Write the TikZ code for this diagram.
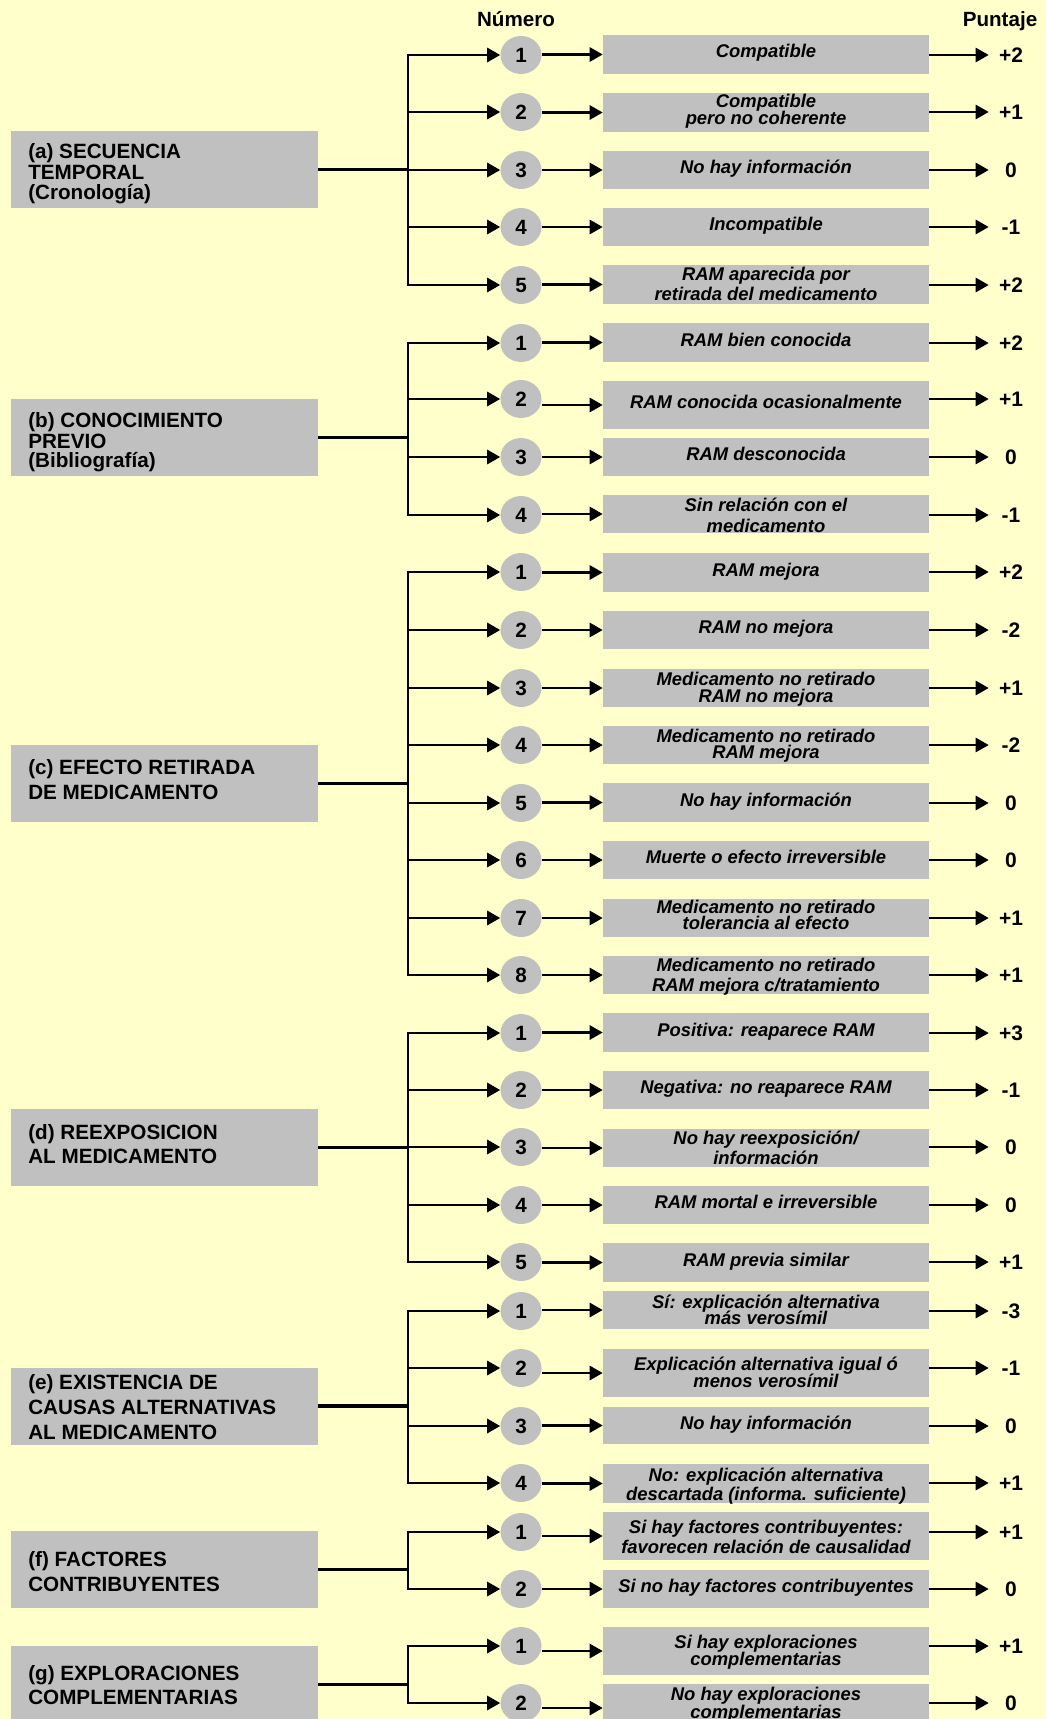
\documentclass[tikz,border=0pt]{standalone}
\usepackage{fontspec}
\setmainfont{Liberation Sans}
\usetikzlibrary{arrows.meta,shapes.geometric}
\definecolor{bgyellow}{HTML}{FFFFCC}
\definecolor{boxgray}{HTML}{C0C0C0}
\tikzset{
  ln/.style={line width=2pt, draw=black},
  arr/.style={ln, -{Triangle[length=9.75pt,width=10.5pt]}},
  ibox/.style={rectangle, fill=boxgray, draw=none, minimum width=244.5pt, inner sep=0pt},
  lbox/.style={rectangle, fill=boxgray, draw=none, minimum width=230.25pt, minimum height=57.75pt, inner sep=0pt},
  numc/.style={ellipse, fill=boxgray, draw=none, minimum width=30.75pt, minimum height=28.5pt, inner sep=0pt, font=\bfseries\fontsize{15.5}{15.5}\selectfont},
  itxt/.style={anchor=base, inner sep=0pt, font=\bfseries\itshape\fontsize{13.8}{14}\selectfont},
  ltxt/.style={anchor=base west, inner sep=0pt, font=\bfseries\fontsize{15.5}{16}\selectfont},
  hdr/.style={anchor=base, inner sep=0pt, font=\bfseries\fontsize{15.45}{16}\selectfont},
  scorenode/.style={minimum width=33pt, inner sep=0pt, font=\bfseries\fontsize{15.75}{16}\selectfont}
}
% #1 id, #2 digit, #3 row y, #4 box top, #5 box bottom, #6 score
\newcommand\optrow[6]{%
  \coordinate (#1s) at (408,#3);
  \node[numc] (#1n) at (521,#3) {#2};
  \node[ibox, minimum height={(#5-#4)*0.75pt}] (#1b) at (766,{(#4+#5)/2}) {};
  \node[scorenode] (#1p) at (1011,#3) {#6};
  \draw[arr] (#1s) -- (#1n.west);
  \draw[arr] (#1n.east |- #1b.west) -- (#1b.west);
  \draw[arr] (#1b.east |- #1n) -- (#1p.west);
}
\newcommand\oneline[3]{\node[itxt] (#1t) at (766,#2) {#3};}
\newcommand\twoline[5]{\node[itxt] (#1t) at (766,#2) {#3};\node[itxt] (#1u) at (766,#4) {#5};}
\newcommand\ltext[3]{\node[ltxt] (#1) at (28,#2) {#3};}
% #1 section id, #2 box centre y, #3 first row id, #4 last row id
\newcommand\critsec[4]{%
  \node[lbox] (#1L) at (164.5,#2) {};
  \draw[ln, line cap=rect] (#3s) -- (#4s);
  \draw[ln, line width=2.5pt] (#1L.east) -- (#1L.east -| #3s);
}
\begin{document}
\begin{tikzpicture}[x=0.75pt,y=-0.75pt]
\fill[bgyellow] (0,0) rectangle (1046,1719);
\useasboundingbox (0,0) rectangle (1046,1719);

\node[hdr] (hnum) at (516,27) {Número};
\node[hdr] (hpun) at (1000,27) {Puntaje};

% (a)
\optrow{a1}{1}{55}{35}{74}{+2}
\optrow{a2}{2}{112}{93}{132}{+1}
\optrow{a3}{3}{170}{151}{189}{0}
\optrow{a4}{4}{227}{208}{246}{-1}
\optrow{a5}{5}{285}{265}{304}{+2}
\critsec{a}{169.5}{a1}{a5}
\ltext{aL1}{159}{(a) SECUENCIA}
\ltext{aL2}{180}{TEMPORAL}
\ltext{aL3}{200}{(Cronología)}
\oneline{a1}{58}{Compatible}
\twoline{a2}{108}{Compatible}{125}{pero no coherente}
\oneline{a3}{173.5}{No hay información}
\oneline{a4}{230.5}{Incompatible}
\twoline{a5}{281}{RAM aparecida por}{300}{retirada del medicamento}

% (b)
\optrow{b1}{1}{343}{323}{362}{+2}
\optrow{b2}{2}{399}{381}{429}{+1}
\optrow{b3}{3}{457}{438}{476}{0}
\optrow{b4}{4}{515}{495}{533}{-1}
\critsec{b}{437.5}{b1}{b4}
\ltext{bL1}{427}{(b) CONOCIMIENTO}
\ltext{bL2}{448}{PREVIO}
\ltext{bL3}{467}{(Bibliografía)}
\oneline{b1}{346}{RAM bien conocida}
\oneline{b2}{408.5}{RAM conocida ocasionalmente}
\oneline{b3}{460.5}{RAM desconocida}
\twoline{b4}{511}{Sin relación con el}{532}{medicamento}

% (c)
\optrow{c1}{1}{572}{553}{592}{+2}
\optrow{c2}{2}{630}{611}{649}{-2}
\optrow{c3}{3}{688}{669}{707}{+1}
\optrow{c4}{4}{745}{726}{764}{-2}
\optrow{c5}{5}{803}{783}{822}{0}
\optrow{c6}{6}{860}{841}{879}{0}
\optrow{c7}{7}{918}{899}{937}{+1}
\optrow{c8}{8}{975}{956}{994}{+1}
\critsec{c}{783.5}{c1}{c8}
\ltext{cL1}{774}{(c) EFECTO RETIRADA}
\ltext{cL2}{799}{DE MEDICAMENTO}
\oneline{c1}{576}{RAM mejora}
\oneline{c2}{633.5}{RAM no mejora}
\twoline{c3}{685}{Medicamento no retirado}{702}{RAM no mejora}
\twoline{c4}{742}{Medicamento no retirado}{758}{RAM mejora}
\oneline{c5}{806}{No hay información}
\oneline{c6}{863.5}{Muerte o efecto irreversible}
\twoline{c7}{913}{Medicamento no retirado}{929}{tolerancia al efecto}
\twoline{c8}{971}{Medicamento no retirado}{991}{RAM mejora c/tratamiento}

% (d)
\optrow{d1}{1}{1033}{1013}{1052}{+3}
\optrow{d2}{2}{1090}{1071}{1109}{-1}
\optrow{d3}{3}{1147}{1129}{1167}{0}
\optrow{d4}{4}{1205}{1186}{1224}{0}
\optrow{d5}{5}{1262}{1243}{1282}{+1}
\critsec{d}{1147.5}{d1}{d5}
\ltext{dL1}{1139}{(d) REEXPOSICION}
\ltext{dL2}{1163}{AL MEDICAMENTO}
\oneline{d1}{1036}{Positiva: reaparece RAM}
\oneline{d2}{1093.5}{Negativa: no reaparece RAM}
\twoline{d3}{1144}{No hay reexposición/}{1164}{información}
\oneline{d4}{1208.5}{RAM mortal e irreversible}
\oneline{d5}{1266}{RAM previa similar}

% (e)
\optrow{e1}{1}{1311}{1291}{1329}{-3}
\optrow{e2}{2}{1368}{1349}{1397}{-1}
\optrow{e3}{3}{1426}{1407}{1444}{0}
\optrow{e4}{4}{1483}{1464}{1503}{+1}
\critsec{e}{1406}{e1}{e4}
\ltext{eL1}{1389}{(e) EXISTENCIA DE}
\ltext{eL2}{1414}{CAUSAS ALTERNATIVAS}
\ltext{eL3}{1439}{AL MEDICAMENTO}
\twoline{e1}{1308}{Sí: explicación alternativa}{1324}{más verosímil}
\twoline{e2}{1370}{Explicación alternativa igual ó}{1387}{menos verosímil}
\oneline{e3}{1429}{No hay información}
\twoline{e4}{1481}{No: explicación alternativa}{1500}{descartada (informa. suficiente)}

% (f)
\optrow{f1}{1}{1532}{1512}{1560}{+1}
\optrow{f2}{2}{1589}{1570}{1608}{0}
\critsec{f}{1569.5}{f1}{f2}
\ltext{fL1}{1566}{(f) FACTORES}
\ltext{fL2}{1591}{CONTRIBUYENTES}
\twoline{f1}{1533}{Si hay factores contribuyentes:}{1553}{favorecen relación de causalidad}
\oneline{f2}{1592.5}{Si no hay factores contribuyentes}

% (g)
\optrow{g1}{1}{1646}{1627}{1675}{+1}
\optrow{g2}{2}{1703}{1684}{1732}{0}
\critsec{g}{1684.5}{g1}{g2}
\ltext{gL1}{1680}{(g) EXPLORACIONES}
\ltext{gL2}{1704}{COMPLEMENTARIAS}
\twoline{g1}{1648}{Si hay exploraciones}{1665}{complementarias}
\twoline{g2}{1700}{No hay exploraciones}{1718}{complementarias}
\end{tikzpicture}
\end{document}
